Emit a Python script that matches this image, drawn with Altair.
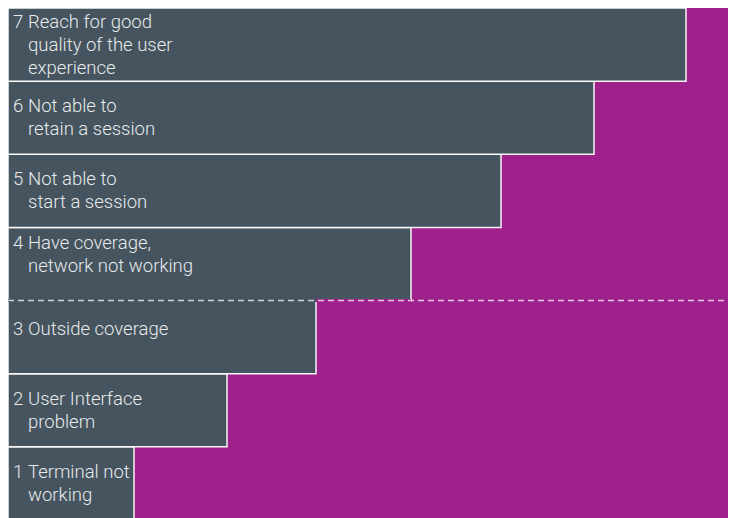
import altair as alt
import pandas as pd

# Data
levels = [1, 2, 3, 4, 5, 6, 7]
widths = [126, 219, 308, 403, 493, 586, 678]
numbers = ["1", "2", "3", "4", "5", "6", "7"]
labels = [
    "Terminal not\nworking",
    "User Interface\nproblem",
    "Outside coverage",
    "Have coverage,\nnetwork not working",
    "Not able to\nstart a session",
    "Not able to\nretain a session",
    "Reach for good\nquality of the user\nexperience",
]
raised_levels = {3: 8, 4: 10}  # labels that sit a little higher in the reference
split_level = 3.5  # dashed divider between level 3 and level 4

SLATE = "#45545E"
MAGENTA = "#9F218B"
TEXT = "#E8EAEC"
W, H = 720, 512
LINE_H = 23

df = pd.DataFrame({"level": levels, "width": widths, "num": numbers, "label": labels})
df["lo"] = df["level"] - 0.5
df["hi"] = df["level"] + 0.5
df["x0"] = 0
df["nlines"] = df["label"].str.count("\n") + 1
df["shift"] = [-(n - 1) * LINE_H / 2 - raised_levels.get(lv, 0)
               for n, lv in zip(df["nlines"], df["level"])]

w3 = widths[levels.index(3)]
w4 = widths[levels.index(4)]
mask_df = pd.DataFrame({
    "x0": [0, w3],
    "x1": [w3, w4],
    "y": [split_level, split_level],
    "c": [SLATE, MAGENTA],
})

xs = alt.Scale(domain=[0, W], nice=False, zero=False)
ys = alt.Scale(domain=[0.5, 7.5], nice=False, zero=False)

base = alt.Chart(df)

bars = base.mark_rect(fill=SLATE, stroke="white", strokeWidth=1.5, strokeOpacity=0.95).encode(
    x=alt.X("x0:Q", scale=xs, axis=None),
    x2="width:Q",
    y=alt.Y("lo:Q", scale=ys, axis=None),
    y2="hi:Q",
)

mask = alt.Chart(mask_df).mark_rule(strokeWidth=3).encode(
    x=alt.X("x0:Q", scale=xs, axis=None),
    x2="x1:Q",
    y=alt.Y("y:Q", scale=ys, axis=None),
    color=alt.Color("c:N", scale=None, legend=None),
)

divider = alt.Chart(pd.DataFrame({"y": [split_level]})).mark_rule(
    color="white", strokeWidth=1.5, strokeDash=[6, 4], opacity=0.75
).encode(
    y=alt.Y("y:Q", scale=ys, axis=None),
    x=alt.value(0),
    x2=alt.value(W),
)

text_common = dict(align="left", baseline="middle", font="Roboto", fontWeight=300,
                   fontSize=18.5, lineHeight=LINE_H, color=TEXT, lineBreak="\n")

text_layers = []
for s in sorted(df["shift"].unique()):
    sub = base.transform_filter(alt.datum.shift == float(s))
    text_layers.append(sub.mark_text(dx=5, dy=float(s), **text_common).encode(
        x=alt.X("x0:Q", scale=xs, axis=None),
        y=alt.Y("level:Q", scale=ys, axis=None),
        text="num:N",
    ))
    text_layers.append(sub.mark_text(dx=20, dy=float(s), **text_common).encode(
        x=alt.X("x0:Q", scale=xs, axis=None),
        y=alt.Y("level:Q", scale=ys, axis=None),
        text="label:N",
    ))

chart = alt.layer(bars, mask, divider, *text_layers).properties(
    width=W, height=H, padding=0, autosize=alt.AutoSizeParams(type="none"),
    background=MAGENTA,
).configure_view(stroke=None, fill=MAGENTA)

chart.save("out.html", embed_options={"renderer": "svg", "actions": False})
